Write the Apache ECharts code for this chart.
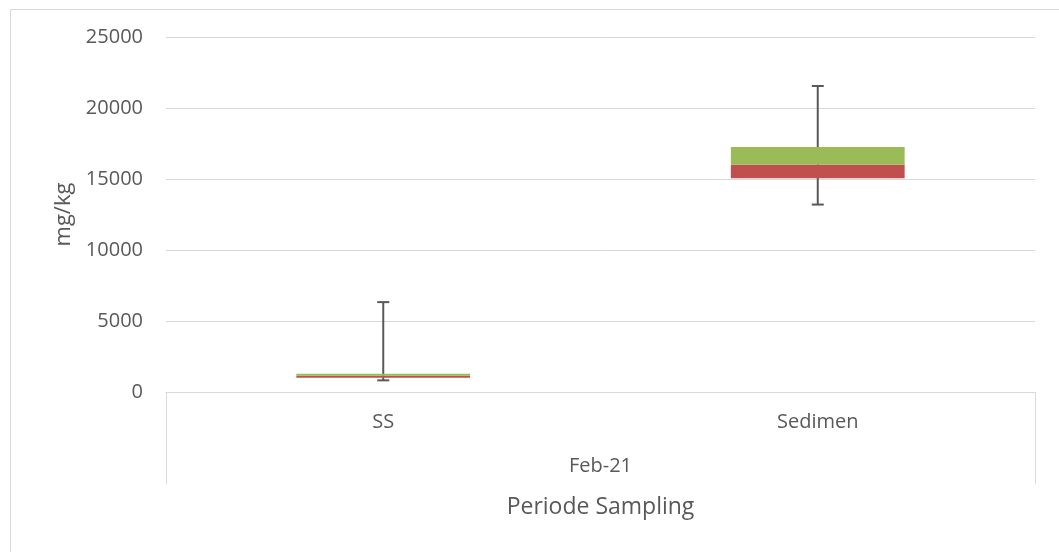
<!DOCTYPE html>
<html>
<head>
<meta charset="utf-8">
<script src="https://cdn.jsdelivr.net/npm/echarts@6/dist/echarts.min.js"></script>
<style>html,body{margin:0;padding:0;background:#fff}#c{width:1059px;height:552px}</style>
</head>
<body>
<div id="c"></div>
<script>
const categories = ["SS", "Sedimen"];
const groupLabels = ["Feb-21"];
const minVals = [820, 13200];
const q1Vals = [1000, 15050];
const medianVals = [1150, 16000];
const q3Vals = [1280, 17250];
const maxVals = [6330, 21550];
const yTicks = { min: 0, max: 25000, interval: 5000 };

const lowerBox = q1Vals.map((q, i) => medianVals[i] - q);
const upperBox = q3Vals.map((q, i) => q - medianVals[i]);
const whiskerData = categories.map((c, i) => [i, minVals[i], maxVals[i]]);

const FONT = "'Open Sans', sans-serif";
const chart = echarts.init(document.getElementById('c'), null, { renderer: 'canvas' });
chart.setOption({
  animation: false,
  backgroundColor: '#ffffff',
  textStyle: { fontFamily: FONT },
  graphic: [{
    type: 'rect', left: 8, top: 7, shape: { width: 1200, height: 700 },
    style: { fill: 'none', stroke: '#d9d9d9', lineWidth: 1 }, z: -10, silent: true
  }],
  grid: { left: 166, right: 24, top: 37, bottom: 160 },
  xAxis: [{
    type: 'category', data: categories, position: 'bottom',
    axisLine: { lineStyle: { color: '#d9d9d9', width: 1 } },
    axisTick: { show: false },
    axisLabel: { color: '#595959', fontSize: 20, margin: 20, fontFamily: FONT },
    splitLine: { show: false }
  }, {
    type: 'category', data: groupLabels, position: 'bottom',
    axisLine: { show: false },
    axisTick: { show: true, length: 92, lineStyle: { color: '#d9d9d9', width: 1 } },
    axisLabel: { color: '#595959', fontSize: 20, margin: 64, fontFamily: FONT },
    name: 'Periode Sampling', nameLocation: 'middle', nameGap: 104,
    nameTextStyle: { color: '#595959', fontSize: 23, fontFamily: FONT }
  }],
  yAxis: {
    type: 'value', min: yTicks.min, max: yTicks.max, interval: yTicks.interval,
    name: 'mg/kg', nameLocation: 'middle', nameGap: 88,
    nameTextStyle: { color: '#595959', fontSize: 22, fontFamily: FONT },
    axisLine: { show: false }, axisTick: { show: false },
    axisLabel: { color: '#595959', fontSize: 20, margin: 23, fontFamily: FONT,
      formatter: function (v) { return String(v); } },
    splitLine: { lineStyle: { color: '#d9d9d9', width: 1 } }
  },
  series: [{
    type: 'custom', xAxisIndex: 0, z: 1,
    data: whiskerData,
    renderItem: function (params, api) {
      const x = api.value(0);
      const lo = api.coord([x, api.value(1)]);
      const hi = api.coord([x, api.value(2)]);
      const half = 6;
      const st = { stroke: '#595959', lineWidth: 2 };
      return {
        type: 'group', children: [
          { type: 'line', shape: { x1: lo[0], y1: lo[1], x2: hi[0], y2: hi[1] }, style: st },
          { type: 'line', shape: { x1: lo[0] - half, y1: lo[1], x2: lo[0] + half, y2: lo[1] }, style: st },
          { type: 'line', shape: { x1: hi[0] - half, y1: hi[1], x2: hi[0] + half, y2: hi[1] }, style: st }
        ]
      };
    }
  }, {
    type: 'bar', stack: 'box', data: q1Vals, barWidth: '40%', z: 2,
    itemStyle: { color: 'transparent' }, silent: true
  }, {
    type: 'bar', stack: 'box', data: lowerBox, barWidth: '40%', z: 2,
    itemStyle: { color: '#C0504D' }
  }, {
    type: 'bar', stack: 'box', data: upperBox, barWidth: '40%', z: 2,
    itemStyle: { color: '#9BBB59' }
  }]
});
</script>
</body>
</html>
